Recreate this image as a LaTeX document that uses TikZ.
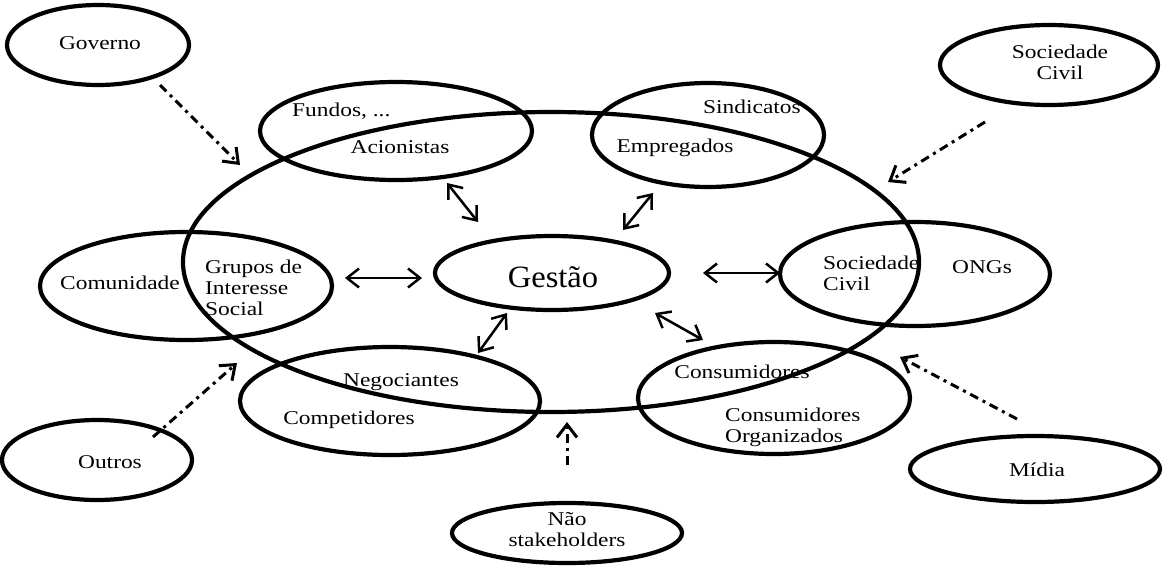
\documentclass[tikz,border=0pt]{standalone}
\usepackage{fontspec}
\setmainfont{Liberation Serif}[FakeStretch=1.2]
\newfontfamily\gestfont{Liberation Serif}[FakeStretch=1.05]
\usetikzlibrary{shapes.geometric,arrows.meta}
\begin{document}
\begin{tikzpicture}[x=1pt,y=-1pt,
  ring/.style={draw,ellipse,line width=4.2pt,inner sep=0pt},
  lbl/.style={inner sep=0pt,font=\fontsize{19.5}{21}\selectfont},
  link/.style={line width=2.5pt,{Straight Barb[length=12pt,width=19pt]}-{Straight Barb[length=12pt,width=19pt]}},
  influence/.style={line width=3pt,dash pattern=on 9pt off 5pt on 3pt off 5pt,
    -{Straight Barb[length=13pt,width=20pt]}},
]
\useasboundingbox (0,0) rectangle (1169,565);

% outer stakeholders
\node[ring,minimum width=182pt,minimum height=80pt] (gov) at (98,45) {};
\node[ring,minimum width=218pt,minimum height=80pt] (socext) at (1049,65) {};
\node[ring,minimum width=190pt,minimum height=80pt] (outros) at (97,460) {};
\node[ring,minimum width=250pt,minimum height=66pt] (midia) at (1035,469) {};
\node[ring,minimum width=230pt,minimum height=60pt] (nao) at (567,533) {};

% company and its groups
\node[ring,minimum width=736pt,minimum height=300pt] (empresa) at (551,262) {};
\node[ring,minimum width=272pt,minimum height=98pt] (acion) at (396,131) {};
\node[ring,minimum width=232pt,minimum height=104pt] (empr) at (708,135) {};
\node[ring,minimum width=292pt,minimum height=108pt] (comun) at (186,286) {};
\node[ring,minimum width=234pt,minimum height=74pt] (gest) at (552,273) {};
\node[ring,minimum width=270pt,minimum height=104pt] (ongs) at (915,274) {};
\node[ring,minimum width=300pt,minimum height=108pt] (compe) at (390,401) {};
\node[ring,minimum width=272pt,minimum height=112pt] (consu) at (774,398) {};

% labels
\node[lbl] (tgov) at (100,43) {Governo};
\node[lbl,align=center] (tsocext) at (1060,62) {Sociedade\\Civil};
\node[lbl,anchor=west] (tfundos) at (292,111) {Fundos, ...};
\node[lbl] (tacion) at (400,147) {Acionistas};
\node[lbl,anchor=west] (tsind) at (703,107) {Sindicatos};
\node[lbl] (tempr) at (675,148) {Empregados};
\node[lbl] (tcomun) at (120,283) {Comunidade};
\node[lbl,anchor=west,align=left] (tgrupos) at (205,288) {Grupos de\\Interesse\\Social};
\node[inner sep=0pt,font=\gestfont\fontsize{31}{33}\selectfont] (tgest) at (553,277) {Gestão};
\node[lbl,anchor=west,align=left] (tsoc) at (823,273) {Sociedade\\Civil};
\node[lbl] (tongs) at (982,267) {ONGs};
\node[lbl,anchor=west] (tnegoc) at (343,382) {Negociantes};
\node[lbl] (tcompe) at (349,420) {Competidores};
\node[lbl] (tconsu) at (742,372) {Consumidores};
\node[lbl,anchor=west,align=left] (torg) at (725,427) {Consumidores\\Organizados};
\node[lbl] (tmidia) at (1037,470) {Mídia};
\node[lbl] (toutros) at (110,462) {Outros};
\node[lbl,align=center] (tnao) at (567,530) {Não\\stakeholders};

% ends of the two-way links around Gestão
\coordinate (l1a) at (447,183); \coordinate (l1b) at (478,222);
\coordinate (l2a) at (653,193); \coordinate (l2b) at (623,230);
\coordinate (l3a) at (345,278); \coordinate (l3b) at (422,278);
\coordinate (l4a) at (703,273); \coordinate (l4b) at (780,273);
\coordinate (l5a) at (507,313); \coordinate (l5b) at (478,353);
\coordinate (l6a) at (655,313); \coordinate (l6b) at (703,340);
\draw[link] (l1a) -- (l1b);
\draw[link] (l2a) -- (l2b);
\draw[link] (l3a) -- (l3b);
\draw[link] (l4a) -- (l4b);
\draw[link] (l5a) -- (l5b);
\draw[link] (l6a) -- (l6b);

% external influences
\coordinate (i1a) at (160,85);   \coordinate (i1b) at (240,165);
\coordinate (i2a) at (985,122);  \coordinate (i2b) at (888,182);
\coordinate (i3a) at (153,437);  \coordinate (i3b) at (237,363);
\coordinate (i4a) at (1017,419); \coordinate (i4b) at (900,357);
\coordinate (i5a) at (567,465);  \coordinate (i5b) at (567,422);
\draw[influence] (i1a) -- (i1b);
\draw[influence] (i2a) -- (i2b);
\draw[influence] (i3a) -- (i3b);
\draw[influence] (i4a) -- (i4b);
\draw[influence] (i5a) -- (i5b);
\end{tikzpicture}
\end{document}
